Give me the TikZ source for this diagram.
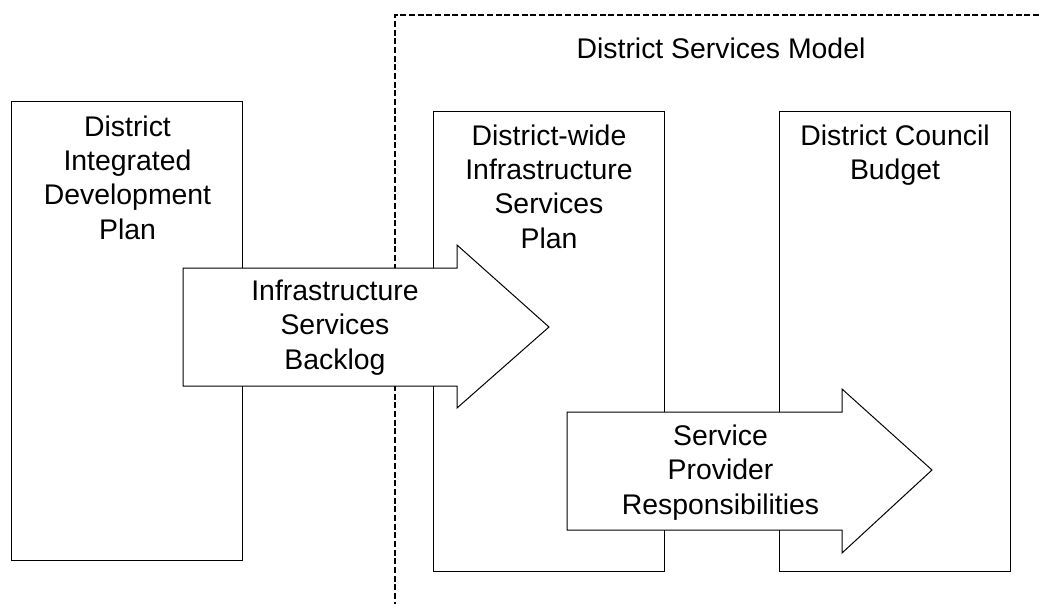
\documentclass[tikz,border=0pt]{standalone}
\usepackage{fontspec}
\setmainfont{Liberation Sans}
\begin{document}
\begin{tikzpicture}[x=0.75pt,y=-0.75pt,
  panel/.style={draw=black,line width=0.75pt,fill=white},
  flow/.style={draw=black,line width=0.75pt,fill=white,line join=miter},
  % labels are placed by the baseline of their last line
  label/.style={font=\fontsize{21.3}{25.7}\selectfont,align=center,inner sep=0pt,anchor=base},
  boundary/.style={line width=1.5pt,dash pattern=on 4.5pt off 2pt}]
\useasboundingbox (0,0) rectangle (1039,604);
% dashed boundary of the district services model
\coordinate (bTop) at (1039,15);
\coordinate (bCorner) at (395,15);
\coordinate (bBottom) at (395,604);
\draw[boundary] (bTop) -- (bCorner) -- (bBottom);
\node[label] (model) at (721,58) {District Services Model};
% planning boxes
\draw[panel] (11,101) rectangle (242,560);
\node[label] (idp) at (127.5,239) {District\\Integrated\\Development\\Plan};
\draw[panel] (433,111) rectangle (664,571);
\node[label] (isp) at (549,248) {District-wide\\Infrastructure\\Services\\Plan};
\draw[panel] (779,111) rectangle (1010,571);
\node[label] (budget) at (895,179.3) {District Council\\Budget};
% block arrows
\draw[flow] (183,268) -- (457,268) -- (457,245) -- (549,327) -- (457,408) -- (457,386) -- (183,386) -- cycle;
\node[label] (backlog) at (335,369) {Infrastructure\\Services\\Backlog};
\draw[flow] (567,412) -- (842,412) -- (842,389) -- (932,470) -- (842,553) -- (842,530) -- (567,530) -- cycle;
\node[label] (resp) at (720.5,514) {Service\\Provider\\Responsibilities};
\end{tikzpicture}
\end{document}
